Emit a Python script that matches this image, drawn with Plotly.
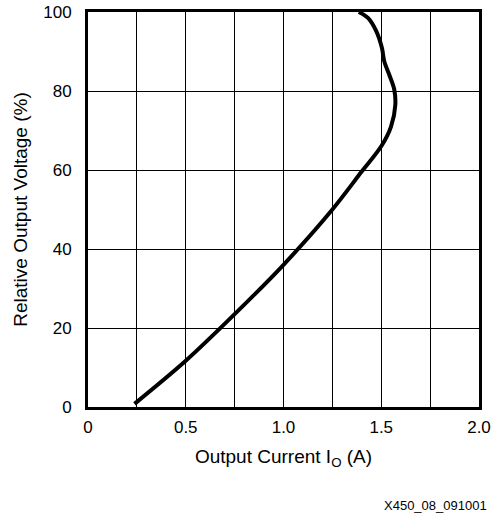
import plotly.graph_objects as go

# Curve (Output current in A, relative output voltage in %)
current_a = [0.238, 0.50, 0.75, 1.00, 1.25, 1.40, 1.50, 1.55, 1.572, 1.566,
             1.542, 1.516, 1.503, 1.472, 1.432, 1.385]
voltage_pct = [0.8, 11.7, 23.5, 36.0, 50.0, 59.6, 66.0, 71.0, 76.5, 80.5,
               84.0, 87.4, 91.0, 95.4, 98.5, 100.0]

x_tick_vals = [0, 0.5, 1.0, 1.5, 2.0]
x_tick_text = ["0", "0.5", "1.0", "1.5", "2.0"]
y_tick_vals = [0, 20, 40, 60, 80, 100]
y_tick_text = ["0", "20", "40", "60", "80", "100"]

FONT = "Liberation Sans, Arial, Helvetica, sans-serif"

fig = go.Figure()
fig.add_trace(go.Scatter(
    x=current_a, y=voltage_pct, mode="lines",
    line=dict(color="black", width=4, shape="spline", smoothing=0.9),
    showlegend=False, hoverinfo="skip",
))

fig.update_layout(
    width=494, height=516,
    margin=dict(l=88, r=15, t=12, b=109),
    paper_bgcolor="white", plot_bgcolor="white",
    font=dict(family=FONT, size=17, color="black"),
    annotations=[dict(
        text="X450_08_091001", xref="paper", yref="paper",
        x=1.026, y=-0.25, xanchor="right", yanchor="middle",
        showarrow=False, font=dict(family=FONT, size=13, color="black"),
    )],
)
fig.update_xaxes(
    range=[0, 2.0], tickvals=x_tick_vals, ticktext=x_tick_text,
    showgrid=True, gridcolor="black", gridwidth=1,
    minor=dict(dtick=0.25, tick0=0, showgrid=True, gridcolor="black", gridwidth=1, ticks=""),
    showline=True, linecolor="black", linewidth=3, mirror=True,
    ticks="outside", ticklen=3, tickcolor="rgba(0,0,0,0)",
    zeroline=False, fixedrange=True, automargin=False,
    title=dict(text="Output Current I<sub>O</sub> (A)", font=dict(size=19), standoff=14),
)
fig.update_yaxes(
    range=[0, 100], tickvals=y_tick_vals, ticktext=y_tick_text,
    showgrid=True, gridcolor="black", gridwidth=1,
    showline=True, linecolor="black", linewidth=3, mirror=True,
    ticks="outside", ticklen=10, tickcolor="rgba(0,0,0,0)",
    zeroline=False, fixedrange=True, automargin=False,
    title=dict(text="Relative Output Voltage (%)", font=dict(size=19), standoff=11),
)

fig.write_html("out.html")
